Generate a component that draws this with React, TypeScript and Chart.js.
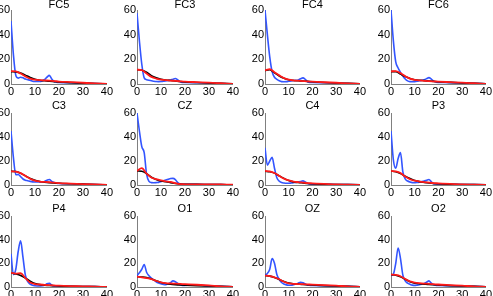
import React, { useEffect, useRef } from "react";
import { Chart, registerables } from "chart.js";

Chart.register(...registerables);

const CHANNELS = ["FC5", "FC3", "FC4", "FC6", "C3", "CZ", "C4", "P3", "P4", "O1", "OZ", "O2"];

const FREQ_BLUE = [0, 1, 2, 3, 4, 5, 6, 7, 8, 9, 10, 11, 12, 13, 14, 15, 16, 17, 18, 19, 20, 25, 30, 35, 40];
const FREQ_FIT = [0, 2, 4, 6, 8, 10, 12, 14, 16, 18, 20, 25, 30, 35, 40];
const X_TICKS = [0, 10, 20, 30, 40];
const Y_TICKS = [0, 20, 40, 60];

// measured spectra (blue)
const BLUE_FC5 = [51, 24, 7, 4.8, 5.5, 5, 4, 3.5, 3, 2.2, 2, 2, 2, 2.5, 3.5, 5.5, 7, 4, 2, 1.5, 1.3, 1, 0.7, 0.4, 0.2];
const BLUE_FC3 = [57.5, 35, 16, 5, 3.5, 3, 2.7, 2.3, 2, 1.9, 2, 2.2, 2.5, 2.8, 3.3, 3.9, 4.4, 3.3, 1.8, 1.3, 1.2, 1, 0.7, 0.4, 0.2];
const BLUE_FC4 = [60, 40, 22, 10, 5.5, 3.8, 2.6, 1.9, 1.8, 1.9, 2.2, 2.5, 2.8, 3, 3.3, 4.3, 5, 3.7, 1.6, 1.3, 1.2, 1, 0.7, 0.4, 0.2];
const BLUE_FC6 = [60, 35, 18, 13, 9.5, 6.5, 4, 2.5, 1.9, 1.8, 1.9, 2.2, 2.6, 3, 3.5, 4.3, 5.2, 4, 2.3, 1.4, 1.3, 1.1, 0.8, 0.5, 0.2];
const BLUE_C3 = [45, 23, 8.5, 8.8, 7, 5, 4, 3.6, 3, 2.6, 2.5, 2.5, 2.5, 2.7, 3, 4, 4.6, 3, 2, 1.5, 1.3, 1, 0.7, 0.4, 0.2];
const BLUE_CZ = [60, 45, 32, 27, 9, 3, 2, 1.9, 2, 2.2, 2.8, 3.5, 4.2, 4.8, 5.4, 5.5, 4.5, 2, 0.8, 0.7, 0.6, 0.5, 0.4, 0.3, 0.2];
const BLUE_C4 = [31, 16.5, 20, 23, 14, 6, 3.2, 2, 1.6, 1.4, 1.4, 1.6, 1.9, 2.2, 2.5, 2.8, 3.4, 2.5, 1.2, 0.8, 0.7, 0.6, 0.4, 0.3, 0.2];
const BLUE_P3 = [45, 21, 14, 22, 27, 11, 5, 3.3, 2.5, 2, 1.9, 2.1, 2.4, 2.8, 3.3, 4, 4.6, 2.7, 0.9, 0.8, 0.7, 0.6, 0.4, 0.3, 0.2];
const BLUE_P4 = [28, 10.5, 15, 30, 39, 25, 10, 4.5, 2.5, 1.5, 1.1, 0.9, 0.8, 1, 1.4, 2.8, 3.1, 1.5, 0.8, 0.7, 0.6, 0.5, 0.4, 0.3, 0.2];
const BLUE_O1 = [9.7, 12, 15, 19, 12.5, 9.5, 7.5, 6, 4.3, 3.3, 2.7, 2.2, 2, 2.6, 3.6, 5.2, 4.5, 3, 1.8, 1.4, 1.4, 1.9, 0.8, 0.5, 0.2];
const BLUE_OZ = [10.2, 11.5, 15, 24, 20, 10.5, 6.5, 3.8, 2.5, 1.8, 1.5, 1.5, 1.9, 2.5, 3.2, 4, 3.6, 2.5, 1.6, 1.4, 1.3, 1.1, 0.8, 0.5, 0.2];
const BLUE_O2 = [9.7, 10.8, 20, 33, 24, 10, 5.2, 3.2, 2.3, 1.6, 1.4, 1.6, 1.9, 2.4, 3, 4, 5.2, 3.2, 1.8, 1.4, 1.3, 1.1, 0.8, 0.5, 0.2];

// first model fit (black)
const BLACK_FC5 = [10, 9.8, 9, 7.2, 5.3, 3.8, 3, 2.6, 2.2, 1.9, 1.6, 1.1, 0.7, 0.4, 0.2];
const BLACK_FC3 = [11.6, 11.2, 9.5, 6.8, 5, 3.8, 3.2, 2.8, 2.4, 2, 1.7, 1.2, 0.8, 0.5, 0.2];
const BLACK_FC4 = [11, 11.5, 9, 6.5, 4.7, 3.4, 2.8, 2.6, 2.4, 2.1, 1.8, 1.2, 0.8, 0.5, 0.2];
const BLACK_FC6 = [10, 10, 8, 6, 4.5, 3.5, 3, 2.7, 2.4, 2.1, 1.8, 1.3, 0.9, 0.5, 0.2];
const BLACK_C3 = [11.4, 11.2, 9.8, 7.6, 5.5, 4, 2.9, 2.4, 2, 1.7, 1.4, 1, 0.7, 0.4, 0.2];
const BLACK_CZ = [11.7, 11.5, 9.5, 6.5, 4.6, 3.3, 2.7, 2, 1.3, 0.8, 0.6, 0.5, 0.4, 0.3, 0.2];
const BLACK_C4 = [11.4, 11, 9.9, 7.6, 5.5, 3.8, 2.6, 2.1, 1.7, 1.3, 1, 0.6, 0.4, 0.3, 0.2];
const BLACK_P3 = [11.7, 11, 9.5, 7.3, 5.4, 3.8, 2.8, 2.2, 1.7, 1.3, 1, 0.6, 0.4, 0.3, 0.2];
const BLACK_P4 = [11.9, 11, 9.7, 7.5, 5, 3, 2, 1.6, 1.3, 1.1, 0.9, 0.6, 0.4, 0.3, 0.2];
const BLACK_O1 = [8.8, 8.5, 8, 6.8, 5.3, 3.8, 3, 2.4, 2, 1.7, 1.5, 1.1, 0.8, 0.5, 0.2];
const BLACK_OZ = [9.7, 9.2, 8, 6.3, 4.6, 3.3, 2.7, 2.4, 2.1, 1.9, 1.7, 1.2, 0.8, 0.5, 0.2];
const BLACK_O2 = [10.5, 9.9, 8.6, 6.5, 4.5, 3.3, 2.7, 2.4, 2.1, 1.9, 1.7, 1.2, 0.8, 0.5, 0.2];

// second model fit (red)
const RED_FC5 = [10.5, 10.3, 8.5, 6.2, 4.3, 3.5, 3.1, 2.9, 2.7, 2.4, 2, 1.5, 1, 0.5, 0.1];
const RED_FC3 = [11.6, 11.2, 8.5, 5.8, 4.4, 3.6, 3.1, 2.8, 2.5, 2.2, 1.9, 1.5, 1.1, 0.6, 0.1];
const RED_FC4 = [11, 12, 9.5, 7, 4.8, 3.6, 3, 2.7, 2.4, 2.1, 1.9, 1.4, 1, 0.5, 0.1];
const RED_FC6 = [10.2, 10.5, 8.8, 6.3, 4.4, 3.4, 2.9, 2.6, 2.3, 2.1, 1.9, 1.5, 1.1, 0.6, 0.1];
const RED_C3 = [11.4, 11.2, 9.9, 7.6, 5.2, 3.6, 2.9, 2.6, 2.3, 2, 1.6, 1.2, 0.8, 0.4, 0.1];
const RED_CZ = [11.7, 14, 9.5, 6.3, 4.9, 3.9, 3.1, 2.6, 1.5, 0.7, 0.6, 0.5, 0.5, 0.4, 0.3];
const RED_C4 = [11.7, 11.4, 10, 7.6, 5.3, 3.8, 2.9, 2.4, 2, 1.6, 1.4, 0.9, 0.5, 0.3, 0.1];
const RED_P3 = [11.7, 11.3, 10, 7, 4.8, 3.6, 2.9, 2.4, 2, 1.6, 1.4, 0.9, 0.5, 0.3, 0.1];
const RED_P4 = [11.9, 11.3, 11.6, 7.5, 3.8, 2.5, 2.1, 1.8, 1.5, 1.3, 1.1, 0.8, 0.6, 0.3, 0.1];
const RED_O1 = [8.8, 8.2, 7.5, 6.6, 5.2, 4, 3.3, 3, 2.8, 2.6, 2.4, 1.9, 1.3, 0.6, 0.1];
const RED_OZ = [9.7, 9.2, 8.2, 6.6, 4.4, 3.1, 2.6, 2.5, 2.4, 2.2, 2, 1.6, 1.1, 0.5, 0.1];
const RED_O2 = [10.5, 10.2, 9.1, 6.7, 4.7, 3.7, 3.2, 2.9, 2.7, 2.4, 2.1, 1.6, 1.1, 0.5, 0.1];

const BLUE = [BLUE_FC5, BLUE_FC3, BLUE_FC4, BLUE_FC6, BLUE_C3, BLUE_CZ, BLUE_C4, BLUE_P3, BLUE_P4, BLUE_O1, BLUE_OZ, BLUE_O2];
const BLACK = [BLACK_FC5, BLACK_FC3, BLACK_FC4, BLACK_FC6, BLACK_C3, BLACK_CZ, BLACK_C4, BLACK_P3, BLACK_P4, BLACK_O1, BLACK_OZ, BLACK_O2];
const RED = [RED_FC5, RED_FC3, RED_FC4, RED_FC6, RED_C3, RED_CZ, RED_C4, RED_P3, RED_P4, RED_O1, RED_OZ, RED_O2];

// layout
const COL_AXIS_X = [11, 137, 265, 391];
const PLOT_W = [96, 96, 95, 95];
const ROW_TOP = [10, 113, 216];
const PLOT_H = [74, 72, 71];
const TITLE_H = [10, 13, 13];
const Y_AXIS_W = 13;
const X_AXIS_H = 14;
const RIGHT_PAD = 7;
const FONT = "'Liberation Sans', Arial, Helvetica, sans-serif";

function toPoints(xs: number[], ys: number[]) {
  return xs.map((x, i) => ({ x, y: ys[i] }));
}

function Panel({ index }: { index: number }) {
  const ref = useRef<HTMLCanvasElement | null>(null);
  const col = index % 4;
  const row = Math.floor(index / 4);
  const width = Y_AXIS_W + PLOT_W[col] + RIGHT_PAD;
  const height = TITLE_H[row] + PLOT_H[row] + X_AXIS_H;
  const left = COL_AXIS_X[col] - Y_AXIS_W;
  const top = ROW_TOP[row] - TITLE_H[row];

  useEffect(() => {
    if (!ref.current) return;
    const lineBase = {
      pointRadius: 0,
      borderWidth: 1.6,
      cubicInterpolationMode: "monotone" as const,
      fill: false,
    };
    const chart = new Chart(ref.current, {
      type: "line",
      data: {
        datasets: [
          { ...lineBase, data: toPoints(FREQ_FIT, RED[index]), borderColor: "#ff1a1a", borderWidth: 1.8 },
          { ...lineBase, data: toPoints(FREQ_FIT, BLACK[index]), borderColor: "#000000" },
          { ...lineBase, data: toPoints(FREQ_BLUE, BLUE[index]), borderColor: "#3355ff" },
        ],
      },
      options: {
        responsive: false,
        animation: false,
        devicePixelRatio: 1,
        layout: { padding: 0 },
        plugins: {
          legend: { display: false },
          tooltip: { enabled: false },
          title: {
            display: true,
            text: CHANNELS[index],
            fullSize: false,
            color: "#000",
            font: {
              family: FONT,
              size: 11,
              weight: "normal",
              lineHeight: row === 0 ? 9 / 11 : 1,
            },
            padding: row === 0 ? { top: 0, bottom: 1 } : { top: 0, bottom: 2 },
          },
        },
        scales: {
          x: {
            type: "linear",
            min: 0,
            max: 40,
            grid: { display: false, drawTicks: false },
            border: { display: true, color: "#808080", width: 1 },
            ticks: { color: "#000", font: { family: FONT, size: 11 }, padding: 1, maxRotation: 0, autoSkip: false },
            afterBuildTicks: (s: any) => {
              s.ticks = X_TICKS.map((v) => ({ value: v }));
            },
            afterFit: (s: any) => {
              s.height = X_AXIS_H;
            },
          },
          y: {
            type: "linear",
            min: 0,
            max: 60,
            grid: { display: false, drawTicks: false },
            border: { display: true, color: "#808080", width: 1 },
            ticks: { color: "#000", font: { family: FONT, size: 11 }, padding: 1, autoSkip: false },
            afterBuildTicks: (s: any) => {
              s.ticks = Y_TICKS.map((v) => ({ value: v }));
            },
            afterFit: (s: any) => {
              s.width = Y_AXIS_W;
            },
          },
        },
      },
    });
    return () => chart.destroy();
  }, [index]);

  return (
    <canvas
      ref={ref}
      width={width}
      height={height}
      style={{ position: "absolute", left, top, width, height }}
    />
  );
}

export default function App() {
  return (
    <div
      style={{
        position: "fixed",
        left: 0,
        top: 0,
        width: 493,
        height: 296,
        overflow: "hidden",
        background: "#fff",
      }}
    >
      {CHANNELS.map((_, i) => (
        <Panel key={i} index={i} />
      ))}
    </div>
  );
}
